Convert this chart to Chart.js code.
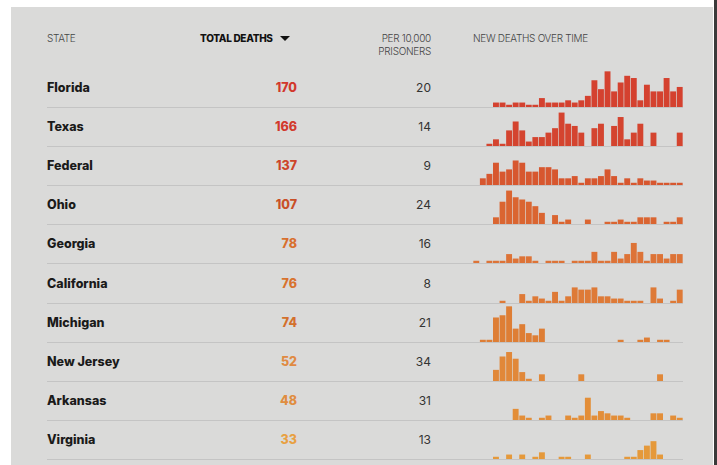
<!DOCTYPE html>
<html>
<head>
<meta charset="utf-8">
<script src="https://cdn.jsdelivr.net/npm/chart.js@4.4.0/dist/chart.umd.min.js"></script>
<style>
  html, body { margin: 0; padding: 0; background: #fff; }
  body { width: 717px; height: 465px; position: relative; overflow: hidden; font-family: Inter, "Noto Sans", sans-serif; }
  #panel { position: absolute; left: 11px; top: 7px; width: 702px; height: 470px; background: #dadad9; }
  #edge { position: absolute; left: 714px; top: 0; width: 3px; height: 465px; background: #3a3a3a; }
  .abs { position: absolute; white-space: nowrap; }
  .hd { font-size: 10px; color: #444; letter-spacing: -0.3px; line-height: 13px; }
  .name { font-size: 12.5px; font-weight: 800; color: #1a1a1a; }
  .total { font-size: 12.5px; font-weight: 800; text-align: right; width: 60px; }
  .rate { font-size: 12px; color: #333; text-align: right; width: 60px; }
  .sep { position: absolute; left: 47px; width: 636px; height: 1px; background: #c4c4c4; }
  canvas.spark { position: absolute; }
</style>
</head>
<body>
<div id="panel"></div>
<div id="edge"></div>
<script>
// 数据
const states = ['Florida', 'Texas', 'Federal', 'Ohio', 'Georgia', 'California', 'Michigan', 'New Jersey', 'Arkansas', 'Virginia'];
const totalDeaths = [170, 166, 137, 107, 78, 76, 74, 52, 48, 33];
const perTenThousand = [20, 14, 9, 24, 16, 8, 21, 34, 31, 13];
const periods = Array.from({ length: 32 }, (_, i) => 'P' + (i + 1));

const floridaDeaths    = [0,0,0,2,2,1,2,2,1,1,4,2,2,2,3,2,3,5,12,8,16,7,11,14,13,3,10,7,7,13,7,9];
const texasDeaths      = [0,0,1,3,1,7,11,7,2,4,4,6,8,15,10,9,6,0,8,10,0,9,13,3,6,10,0,6,0,0,0,6];
const federalDeaths    = [0,3,5,10,6,7,11,10,6,6,8,8,7,3,3,4,1,3,3,4,7,4,1,3,1,3,2,2,1,1,1,1];
const ohioDeaths       = [0,0,0,3,10,15,12,11,10,8,5,0,4,1,2,0,0,2,0,0,1,1,2,1,1,3,3,3,0,1,1,3];
const georgiaDeaths    = [1,0,1,1,1,4,2,3,3,1,0,1,1,1,0,1,1,1,5,1,1,5,2,4,9,5,1,4,4,2,4,4];
const californiaDeaths = [0,0,0,0,1,0,0,4,1,3,2,1,5,1,3,7,6,6,7,3,3,2,2,1,1,1,0,7,2,0,1,6];
const michiganDeaths   = [0,1,1,11,12,16,6,8,4,3,6,0,0,0,0,0,0,0,0,0,0,0,1,0,0,1,2,0,1,1,0,0];
const newJerseyDeaths  = [0,0,0,5,11,13,10,4,1,0,3,0,0,0,0,0,3,0,0,0,0,0,0,0,0,0,0,0,3,0,0,0];
const arkansasDeaths   = [0,0,0,0,0,0,5,2,1,0,1,2,0,0,2,1,2,10,2,4,3,2,2,1,0,0,0,3,3,0,2,1];
const virginiaDeaths   = [0,0,0,1,0,2,0,2,0,1,3,0,0,1,1,0,0,2,0,0,0,0,0,1,1,4,6,8,2,0,0,0];

const seriesByState = [floridaDeaths, texasDeaths, federalDeaths, ohioDeaths, georgiaDeaths,
  californiaDeaths, michiganDeaths, newJerseyDeaths, arkansasDeaths, virginiaDeaths];

// 颜色：由红到橙
const numberColors = ['#d2382c', '#d2392c', '#cd452a', '#c94f27', '#d86f2e', '#d8722e', '#d3702c', '#e08a42', '#e08d40', '#e8a042'];
const barColors = ['#d4412f', '#d4442f', '#d7572f', '#da6531', '#dd7337', '#de7a37', '#de7e35', '#e18839', '#e38e38', '#e5993b'];

// 布局
const rowTop = 88.5;
const rowStep = 39.2;
const sparkLeft = 473;
const sparkWidth = 210;
const sparkHeight = 39;

function addText(cls, text, x, y, extra) {
  const el = document.createElement('div');
  el.className = 'abs ' + cls;
  el.textContent = text;
  el.style.left = x + 'px';
  el.style.top = y + 'px';
  if (extra) Object.assign(el.style, extra);
  document.body.appendChild(el);
  return el;
}

// 表头
addText('hd', 'STATE', 47, 32, { fontWeight: 300 });
const th = addText('hd', 'TOTAL DEATHS', 200, 32, { fontWeight: 800, color: '#111' });
th.innerHTML = 'TOTAL DEATHS <span style="display:inline-block;margin-left:5px;width:0;height:0;border-left:5px solid transparent;border-right:5px solid transparent;border-top:5px solid #111;vertical-align:1px"></span>';
addText('hd', 'PER 10,000', 370, 32, { fontWeight: 300, width: '61px', textAlign: 'right' });
addText('hd', 'PRISONERS', 370, 45, { fontWeight: 300, width: '61px', textAlign: 'right' });
addText('hd', 'NEW DEATHS OVER TIME', 473, 32, { fontWeight: 300 });

// 行
states.forEach((name, i) => {
  const cy = rowTop + rowStep * i;
  addText('name', name, 47, cy - 9);
  addText('total', String(totalDeaths[i]), 237, cy - 9, { color: numberColors[i] });
  addText('rate', String(perTenThousand[i]), 371, cy - 9);

  const baseY = Math.round(106.5 + rowStep * i);
  const sep = document.createElement('div');
  sep.className = 'sep';
  sep.style.top = baseY + 'px';
  document.body.appendChild(sep);

  const canvas = document.createElement('canvas');
  canvas.className = 'spark';
  canvas.width = sparkWidth;
  canvas.height = sparkHeight;
  canvas.style.left = sparkLeft + 'px';
  canvas.style.top = (baseY - sparkHeight) + 'px';
  document.body.appendChild(canvas);

  new Chart(canvas.getContext('2d'), {
    type: 'bar',
    data: {
      labels: periods,
      datasets: [{
        data: seriesByState[i],
        backgroundColor: barColors[i],
        borderWidth: 0,
        barPercentage: 0.9,
        categoryPercentage: 1
      }]
    },
    options: {
      responsive: false,
      animation: false,
      events: [],
      layout: { padding: 0 },
      plugins: { legend: { display: false }, tooltip: { enabled: false } },
      scales: {
        x: { display: false },
        y: { display: false, min: 0, max: 17.5 }
      }
    }
  });
});
</script>
</body>
</html>
